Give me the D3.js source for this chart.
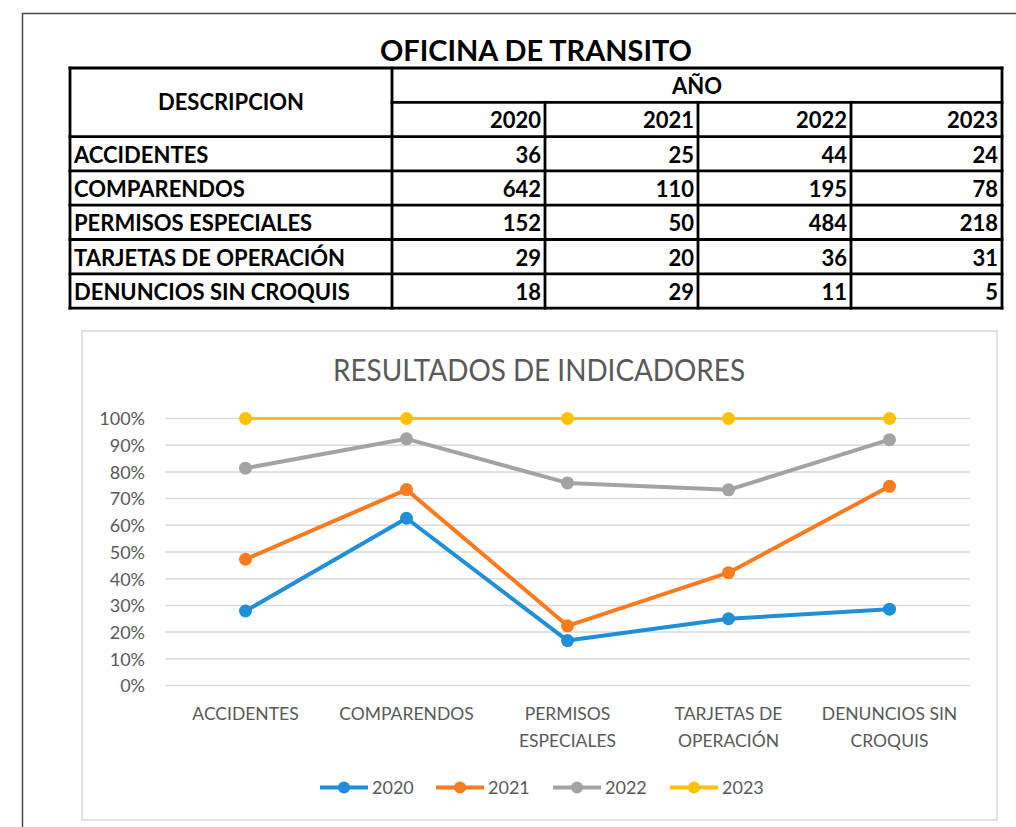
<!DOCTYPE html>
<html>
<head>
<meta charset="utf-8">
<script src="https://cdn.jsdelivr.net/npm/d3@7"></script>
<style>
  body { margin: 0; background: #fff; }
  svg { display: block; }
</style>
</head>
<body>
<svg id="page" width="1016" height="827"></svg>
<script>
// ---- data -------------------------------------------------------------
const categories = ["ACCIDENTES", "COMPARENDOS", "PERMISOS ESPECIALES", "TARJETAS DE OPERACIÓN", "DENUNCIOS SIN CROQUIS"];
const axisLabelLines = [["ACCIDENTES"], ["COMPARENDOS"], ["PERMISOS", "ESPECIALES"], ["TARJETAS DE", "OPERACIÓN"], ["DENUNCIOS SIN", "CROQUIS"]];
const years = ["2020", "2021", "2022", "2023"];
const values2020 = [36, 642, 152, 29, 18];
const values2021 = [25, 110, 50, 20, 29];
const values2022 = [44, 195, 484, 36, 11];
const values2023 = [24, 78, 218, 31, 5];
const yTicks = [0, 0.1, 0.2, 0.3, 0.4, 0.5, 0.6, 0.7, 0.8, 0.9, 1];
const seriesColors = ["#1f8fd8", "#fb7a1e", "#a3a3a3", "#ffc000"];

const tableTitle = "OFICINA DE TRANSITO";
const chartTitle = "RESULTADOS DE INDICADORES";

const valuesByYear = [values2020, values2021, values2022, values2023];
const rows = categories.map((c, i) => {
  const r = { cat: c };
  years.forEach((y, k) => { r[y] = valuesByYear[k][i]; });
  return r;
});

const svg = d3.select("#page");
const FONT = "Lato, 'Open Sans', sans-serif";

// ---- page frame -------------------------------------------------------
svg.append("line").attr("x1", 22).attr("x2", 1016).attr("y1", 13.5).attr("y2", 13.5)
  .attr("stroke", "#4a4a4a").attr("stroke-width", 1.5);
svg.append("line").attr("x1", 22.5).attr("x2", 22.5).attr("y1", 13).attr("y2", 827)
  .attr("stroke", "#4a4a4a").attr("stroke-width", 1.5);

// ---- table ------------------------------------------------------------
const colX = [70, 392, 545, 698, 851, 1002];
const rowTop = 68, rowH = 34.3;
const nRows = 2 + categories.length;
const tableBottom = rowTop + nRows * rowH;
const tbl = svg.append("g");

tbl.append("text").attr("x", 536).attr("y", 61).attr("text-anchor", "middle")
  .attr("font-family", FONT).attr("font-weight", 700).attr("font-size", 29)
  .attr("textLength", 312).attr("lengthAdjust", "spacingAndGlyphs")
  .attr("fill", "#000").text(tableTitle);

const tLine = (x1, y1, x2, y2) => tbl.append("line")
  .attr("x1", x1).attr("y1", y1).attr("x2", x2).attr("y2", y2)
  .attr("stroke", "#000").attr("stroke-width", 2.8).attr("stroke-linecap", "square");

// horizontal rules
d3.range(nRows + 1).forEach(i => {
  const y = rowTop + i * rowH;
  if (i === 1) tLine(colX[1], y, colX[5], y);
  else tLine(colX[0], y, colX[5], y);
});
// vertical rules
tLine(colX[0], rowTop, colX[0], tableBottom);
tLine(colX[1], rowTop, colX[1], tableBottom);
tLine(colX[5], rowTop, colX[5], tableBottom);
[2, 3, 4].forEach(j => tLine(colX[j], rowTop + rowH, colX[j], tableBottom));

const cellText = (x, y, anchor, txt) => tbl.append("text")
  .attr("x", x).attr("y", y).attr("text-anchor", anchor)
  .attr("font-family", FONT).attr("font-weight", 700).attr("font-size", 22)
  .attr("fill", "#000").text(txt);

cellText((colX[0] + colX[1]) / 2, rowTop + rowH + 8, "middle", "DESCRIPCION");
cellText((colX[1] + colX[5]) / 2, rowTop + 26, "middle", "AÑO");
years.forEach((y, k) => cellText(colX[k + 2] - 4, rowTop + rowH + 26, "end", y));
rows.forEach((r, i) => {
  const base = rowTop + (i + 2) * rowH + 26;
  cellText(colX[0] + 4, base, "start", r.cat);
  years.forEach((y, k) => cellText(colX[k + 2] - 4, base, "end", r[y]));
});

// ---- chart ------------------------------------------------------------
const chart = svg.append("g");
chart.append("rect").attr("x", 82).attr("y", 331).attr("width", 915).attr("height", 489)
  .attr("fill", "#fff").attr("stroke", "#d9d9d9").attr("stroke-width", 1.5);

chart.append("text").attr("x", 539).attr("y", 381).attr("text-anchor", "middle")
  .attr("font-family", FONT).attr("font-size", 31).attr("fill", "#595959")
  .attr("textLength", 412).attr("lengthAdjust", "spacingAndGlyphs")
  .text(chartTitle);

const plotL = 165, plotR = 970;
const x = d3.scalePoint().domain(categories).range([plotL, plotR]).padding(0.5);
const y = d3.scaleLinear().domain([0, 1]).range([685.5, 418.5]);

// gridlines
chart.append("g").selectAll("line").data(yTicks).join("line")
  .attr("x1", plotL).attr("x2", plotR)
  .attr("y1", d => y(d)).attr("y2", d => y(d))
  .attr("stroke", "#d9d9d9").attr("stroke-width", 1.5);

// y axis labels
const yAxis = chart.append("g").attr("transform", `translate(${plotL - 20},0)`)
  .call(d3.axisLeft(y).tickValues(yTicks).tickFormat(d3.format(".0%")).tickSize(0).tickPadding(0));
yAxis.select(".domain").remove();
yAxis.selectAll("text").attr("font-family", FONT).attr("font-size", 18)
  .attr("fill", "#595959").attr("dy", "0.35em");

// category labels
const xl = chart.append("g").selectAll("text").data(categories).join("text")
  .attr("x", d => x(d)).attr("y", 720).attr("text-anchor", "middle")
  .attr("font-family", FONT).attr("font-size", 17.5).attr("fill", "#595959");
xl.each(function (d, i) {
  d3.select(this).selectAll("tspan").data(axisLabelLines[i]).join("tspan")
    .attr("x", x(d)).attr("dy", (t, j) => j === 0 ? 0 : 27).text(t => t);
});

// 100% stacked lines
const stacked = d3.stack().keys(years).offset(d3.stackOffsetExpand)(rows);
const line = d3.line().x(d => x(d.data.cat)).y(d => y(d[1]));
stacked.forEach((s, k) => {
  const g = chart.append("g");
  g.append("path").datum(s).attr("d", line).attr("fill", "none")
    .attr("stroke", seriesColors[k]).attr("stroke-width", k === 3 ? 3.2 : 4)
    .attr("stroke-linejoin", "round");
  g.selectAll("circle").data(s).join("circle")
    .attr("cx", d => x(d.data.cat)).attr("cy", d => y(d[1])).attr("r", 6.5)
    .attr("fill", seriesColors[k]);
});

// legend
const legendX = [320, 436, 553, 670];
const legY = 787.5;
years.forEach((yr, k) => {
  const g = chart.append("g").attr("transform", `translate(${legendX[k]},${legY})`);
  g.append("line").attr("x1", 0).attr("x2", 48).attr("y1", 0).attr("y2", 0)
    .attr("stroke", seriesColors[k]).attr("stroke-width", 4);
  g.append("circle").attr("cx", 24).attr("cy", 0).attr("r", 6).attr("fill", seriesColors[k]);
  g.append("text").attr("x", 52).attr("y", 0).attr("dy", "0.35em")
    .attr("font-family", FONT).attr("font-size", 18).attr("fill", "#595959").text(yr);
});
</script>
</body>
</html>
